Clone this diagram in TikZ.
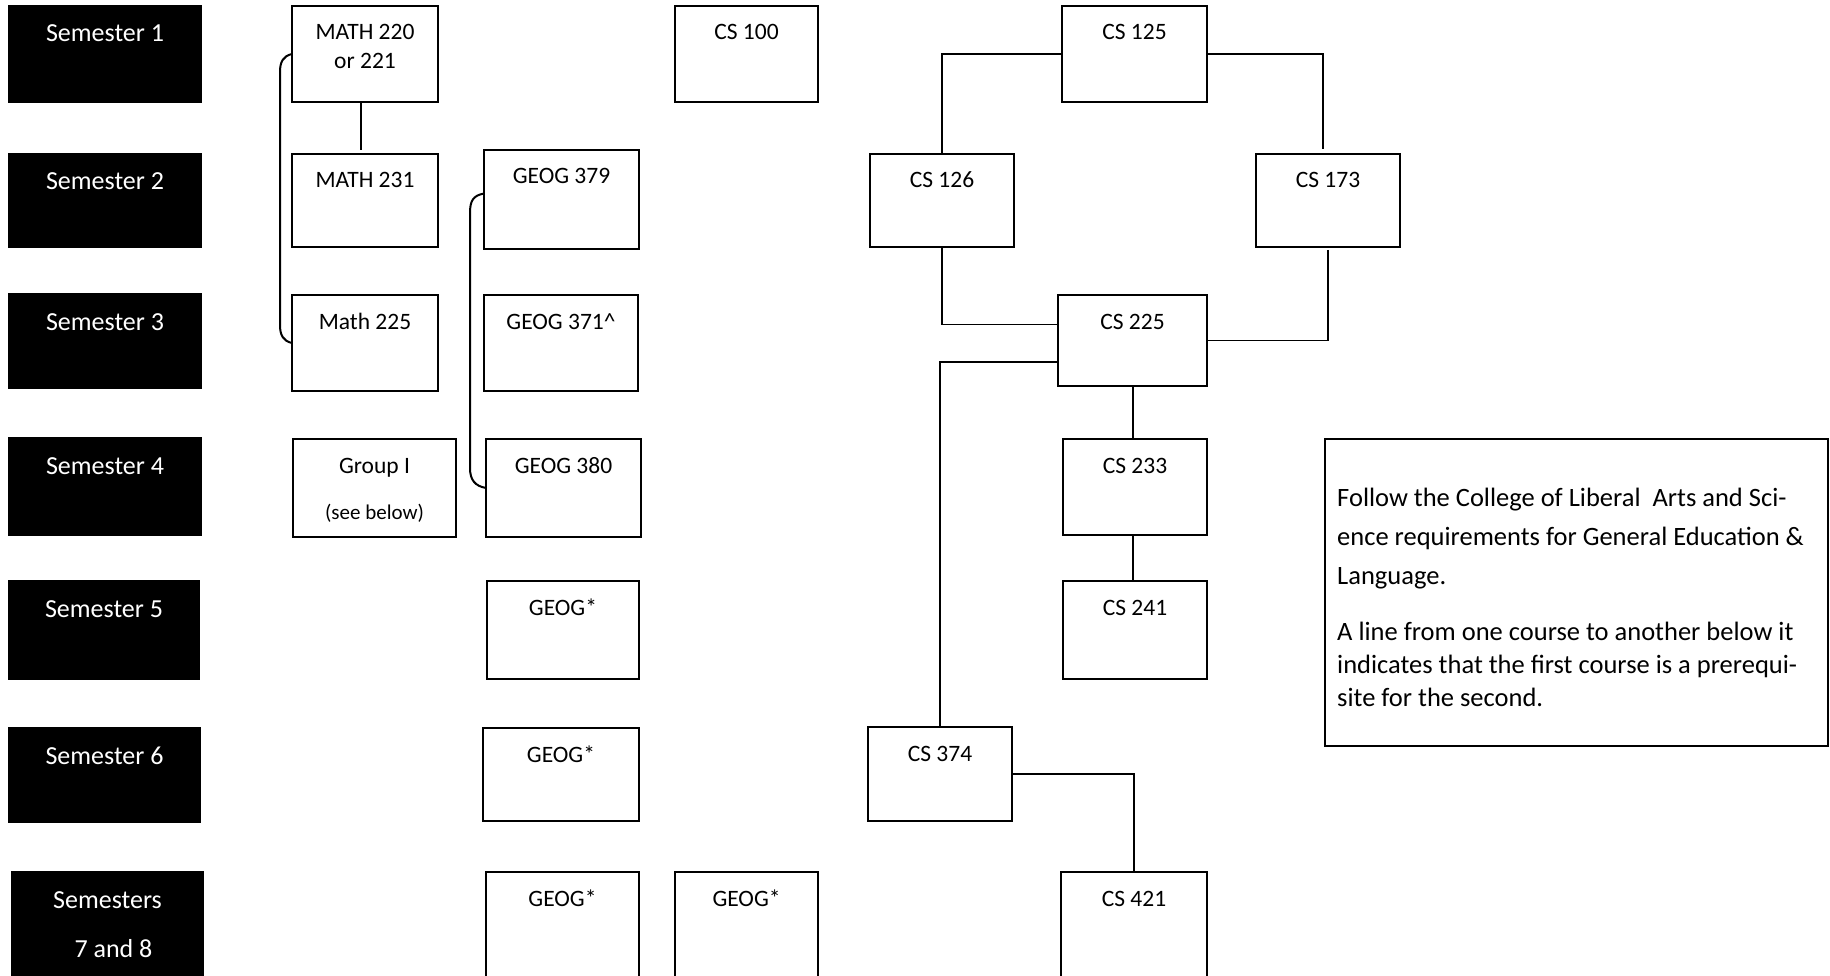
\documentclass[tikz,border=0pt]{standalone}
\usepackage{fontspec}
\setmainfont{Carlito}
\usetikzlibrary{calc}
\tikzset{
  crs/.style={draw, line width=2pt, fill=white, inner sep=0pt, outer sep=0pt, anchor=north west},
  sem/.style={fill=black, draw=none, inner sep=0pt, outer sep=0pt, anchor=north west},
  crstext/.style={anchor=base, align=center, inner sep=0pt, font=\fontsize{23.5pt}{29pt}\selectfont},
  smalltext/.style={anchor=base, inner sep=0pt, font=\fontsize{21pt}{25pt}\selectfont},
  semtext/.style={anchor=base, inner sep=0pt, text=white, font=\fontsize{26pt}{49pt}\selectfont},
  notetext/.style={anchor=base west, align=left, inner sep=0pt},
  conn/.style={line width=1.8pt},
  brk/.style={line width=2pt, line cap=round},
}
\newcommand\coursebox[6]{%
  \node[crs, minimum width={#4pt-#2pt}, minimum height={#5pt-#3pt}] (#1) at (#2,#3) {};
  \node[crstext] (#1t) at ([yshift=-34pt]#1.north) {#6};}
\newcommand\sembox[6]{%
  \node[sem, minimum width={#4pt-#2pt}, minimum height={#5pt-#3pt}] (#1) at (#2,#3) {};
  \node[semtext] (#1t) at ([yshift=-37pt]#1.north) {#6};}
\begin{document}
\begin{tikzpicture}[x=1pt, y=-1pt]
\useasboundingbox (0,0) rectangle (1830,976);
\clip (0,0) rectangle (1830,976);
\fill[white] (0,0) rectangle (1830,976);

% semester labels
\sembox{s1}{8}{5}{202}{103}{Semester 1}
\sembox{s2}{8}{153}{202}{248}{Semester 2}
\sembox{s3}{8}{293}{202}{389}{Semester 3}
\sembox{s4}{8}{437}{202}{536}{Semester 4}
\sembox{s5}{8}{580}{200}{680}{Semester 5}
\sembox{s6}{8}{727}{201}{823}{Semester 6}
\node[sem, minimum width=193pt, minimum height=140pt] (s7) at (11,871) {};
\node[semtext] (s7t) at ([yshift=-37pt]s7.north) {Semesters};
\node[semtext] (s7u) at ([xshift=6pt,yshift=-86pt]s7.north) {7 and 8};

% course boxes
\node[crs, minimum width=146pt, minimum height=96pt] (m220) at (292,6) {};
\node[crstext] (m220t) at ([yshift=-63pt]m220.north) {MATH 220\\or 221};
\coursebox{m231}{292}{154}{438}{247}{MATH 231}
\coursebox{m225}{292}{295}{438}{391}{Math 225}
\coursebox{grp}{293}{439}{456}{537}{Group I}
\node[smalltext] (grpt2) at ([yshift=-80pt]grp.north) {(see below)};
\coursebox{g379}{484}{150}{639}{249}{GEOG 379}
\coursebox{g371}{484}{295}{638}{391}{GEOG 371\^{}}
\coursebox{g380}{486}{439}{641}{537}{GEOG 380}
\coursebox{g5}{487}{581}{639}{679}{GEOG*}
\coursebox{g6}{483}{728}{639}{821}{GEOG*}
\coursebox{g7a}{486}{872}{639}{1010}{GEOG*}
\coursebox{g7b}{675}{872}{818}{1010}{GEOG*}
\coursebox{c100}{675}{6}{818}{102}{CS 100}
\coursebox{c125}{1062}{6}{1207}{102}{CS 125}
\coursebox{c126}{870}{154}{1014}{247}{CS 126}
\coursebox{c173}{1256}{154}{1400}{247}{CS 173}
\coursebox{c225}{1058}{295}{1207}{386}{CS 225}
\coursebox{c233}{1063}{439}{1207}{535}{CS 233}
\coursebox{c241}{1063}{581}{1207}{679}{CS 241}
\coursebox{c374}{868}{727}{1012}{821}{CS 374}
\coursebox{c421}{1061}{872}{1207}{1010}{CS 421}

% connectors
\draw[conn] ([xshift=-4pt]m220.south) -- ([xshift=-4pt,yshift=4pt]m231.north);
\draw[conn] (c125.west) -| (c126.north);
\draw[conn] (c125.east) -| ([xshift=-5pt,yshift=5pt]c173.north);
\draw[conn] (c126.south) |- ([yshift=16pt]c225.west);
\draw[conn] ([yshift=-3pt]c173.south) |- (c225.east);
\draw[conn] ([yshift=-21.5pt]c225.west) -| (c374.north);
\draw[conn] ([xshift=0.5pt]c225.south) -- ([xshift=0.5pt]c225.south |- c233.north);
\draw[conn] ([xshift=-2pt]c233.south) -- ([xshift=-2pt]c233.south |- c241.north);
\draw[conn] (c374.east) -| (c421.north);

% brackets
\draw[brk] (m220.west) .. controls +(-9,2) and +(0,-10) .. ++(-12,18)
  -- ($(m225.west)+(-12,-18)$) .. controls +(0,10) and +(-9,-2) .. (m225.west);
\draw[brk] ([yshift=6pt]g379.west) .. controls +(-11,2) and +(0,-12) .. (470,213)
  -- (470,468) .. controls +(0,12) and +(-11,-2) .. (g380.west);

% note box
\node[crs, minimum width=503pt, minimum height=307pt] (note) at (1325,439) {};
\node[notetext, font=\fontsize{26.5pt}{39pt}\selectfont] (note1) at (1337,584)
  {Follow the College of Liberal\ \ Arts and Sci-\\ence requirements for General Education \&\\Language.};
\node[notetext, font=\fontsize{26.5pt}{33pt}\selectfont] (note2) at (1337,706)
  {A line from one course to another below it\\indicates that the first course is a prerequi-\\site for the second.};
\end{tikzpicture}
\end{document}
